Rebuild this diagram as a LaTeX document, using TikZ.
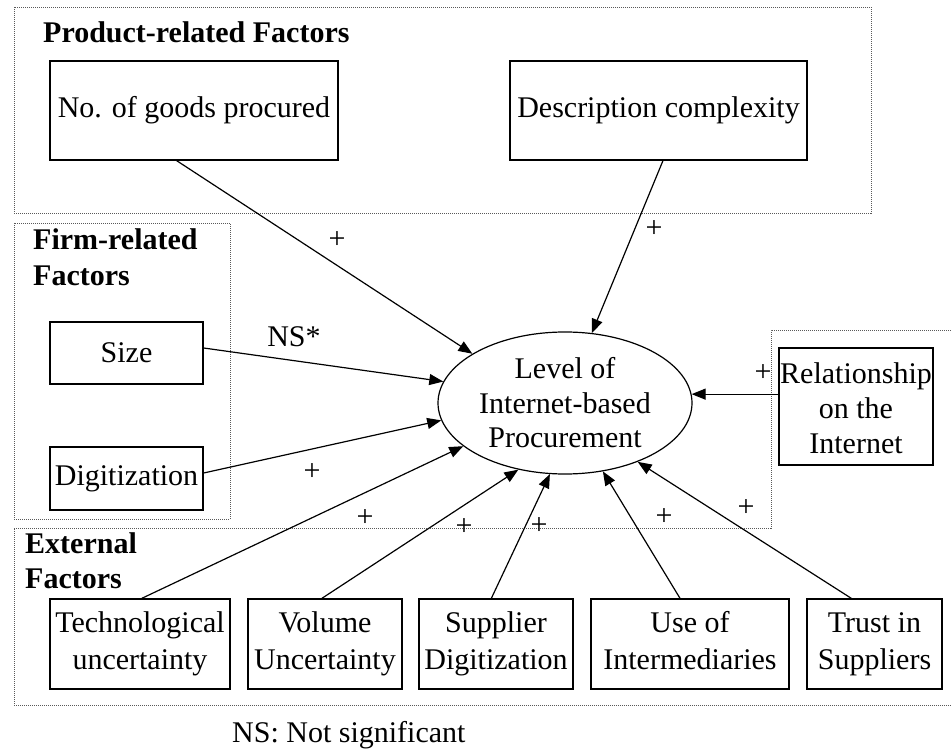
\documentclass[tikz,border=0pt]{standalone}
\usepackage{fontspec}
\setmainfont{Liberation Serif}
\usetikzlibrary{arrows.meta,calc,shapes.geometric}
\begin{document}
\begin{tikzpicture}[x=1pt,y=-1pt,
  font=\fontsize{30}{36}\selectfont,
  box/.style={draw,line width=1.3pt,inner sep=0pt,align=center},
  grp/.style={draw=black!65,line width=0.9pt,dash pattern=on 1pt off 1pt},
  arr/.style={line width=1.2pt,-{Triangle[length=14pt,width=11pt]}},
  lab/.style={inner sep=0pt},
  ttl/.style={font=\fontsize{30}{36}\selectfont\bfseries,inner sep=0pt,anchor=base west}]
\useasboundingbox (0,0) rectangle (951,751);

% group frames
\draw[grp] (14,7) rectangle (871,213);
\draw[grp] (14,223) rectangle (230,519);
\draw[grp] (951,705) -- (14,705) -- (14,528) -- (771,528) -- (771,330) -- (951,330);

% titles
\node[ttl] (tprod) at (43,43) {Product-related Factors};
\node[ttl] (tfirm1) at (33,250) {Firm-related};
\node[ttl] (tfirm2) at (33,286) {Factors};
\node[ttl] (text1) at (25,553) {External};
\node[ttl] (text2) at (25,588) {Factors};

% boxes
\node[box,minimum width=288pt,minimum height=99pt] (nogoods) at (194,110.5) {No. of goods procured};
\node[box,minimum width=297pt,minimum height=99pt] (desc) at (658.5,110.5) {Description complexity};
\node[box,minimum width=153pt,minimum height=62pt] (size) at (126.5,353) {Size};
\node[box,minimum width=153pt,minimum height=63pt] (digit) at (126.5,478.5) {Digitization};
\node[box,minimum width=154pt,minimum height=117pt,font=\fontsize{30}{35}\selectfont] (rel) at (856,406.5) {\strut Relationship\\on the\\Internet};
\node[box,minimum width=180pt,minimum height=90pt,font=\fontsize{30}{37}\selectfont] (tech) at (140,644) {\strut Technological\\uncertainty\strut};
\node[box,minimum width=154pt,minimum height=90pt,font=\fontsize{30}{37}\selectfont] (vol) at (325,644) {\strut Volume\\Uncertainty\strut};
\node[box,minimum width=154pt,minimum height=90pt,font=\fontsize{30}{37}\selectfont] (supp) at (496,644) {\strut Supplier\\Digitization\strut};
\node[box,minimum width=198pt,minimum height=90pt,font=\fontsize{30}{37}\selectfont] (use) at (690,644) {\strut Use of\\Intermediaries\strut};
\node[box,minimum width=135pt,minimum height=90pt,font=\fontsize{30}{37}\selectfont] (trust) at (874.5,644) {\strut Trust in\\Suppliers\strut};

% central ellipse
\node[ellipse,draw,line width=1.2pt,inner sep=0pt,minimum width=254pt,minimum height=142pt,align=center,font=\fontsize{30}{34.5}\selectfont] (lvl) at (565,403) {Level of\\Internet-based\\Procurement};

% connectors
\draw[arr] ($(nogoods.south west)!0.44!(nogoods.south east)$) -- (lvl.152.7);
\draw[arr] ($(desc.south west)!0.515!(desc.south east)$) -- (lvl.69.7);
\draw[arr] ([yshift=5pt]size.east) -- (lvl.170.9);
\draw[arr] ([yshift=5.5pt]digit.east) -- (lvl.188.4);
\draw[arr] (rel.west |- lvl.4) -- (lvl.4);
\draw[arr] ($(tech.north west)!0.51!(tech.north east)$) -- (lvl.203.5);
\draw[arr] ($(vol.north west)!0.48!(vol.north east)$) -- (lvl.235);
\draw[arr] ($(supp.north west)!0.47!(supp.north east)$) -- (lvl.258.7);
\draw[arr] ($(use.north west)!0.45!(use.north east)$) -- (lvl.299.3);
\draw[arr] ($(trust.north west)!0.33!(trust.north east)$) -- (lvl.321.8);

% labels
\node[lab] (p1) at (337,240) {+};
\node[lab] (p2) at (654,229) {+};
\node[lab] (ns) at (294,337) {NS*};
\node[lab] (p3) at (312,472) {+};
\node[lab] (p4) at (763,373) {+};
\node[lab] (p5) at (365,518) {+};
\node[lab] (p6) at (464,527) {+};
\node[lab] (p7) at (539,526) {+};
\node[lab] (p8) at (664,517) {+};
\node[lab] (p9) at (746,508) {+};

\node[lab,anchor=base west] (note) at (232,742) {NS: Not significant};
\end{tikzpicture}
\end{document}
